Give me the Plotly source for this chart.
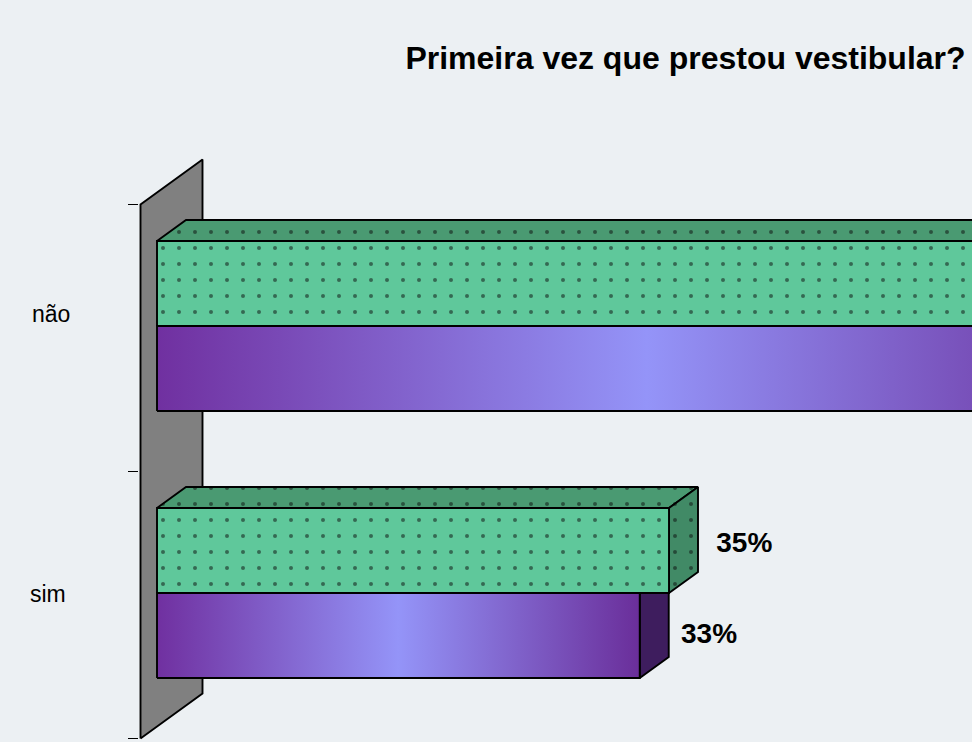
import plotly.graph_objects as go

# ---------------- data ----------------
categories = ["não", "sim"]          # top to bottom
cat_pos = [1, 0]                      # numeric position of each category
series_names = ["Série 1", "Série 2"]
green_values = [65, 35]               # upper bar of each category (%)
purple_values = [67, 33]              # lower bar of each category (%)
green_labels = ["65%", "35%"]
purple_labels = ["67%", "33%"]
title_text = "Primeira vez que prestou vestibular?"

# ---------------- style / projection ----------------
W, H = 972, 742
ML = 139
PX_PER_UNIT = 512 / 35.0              # horizontal pixels per percent
PY_PER_UNIT = 267.0                   # vertical pixels per category step
X0_PX = 157                           # pixel of value 0 (bar fronts)
Y1_PX = 326                           # pixel of category position 1

BAR_H = 85 / PY_PER_UNIT              # bar thickness (category units)
DXB = 29 / PX_PER_UNIT                # bar depth offset (x units)
DYB = 21 / PY_PER_UNIT                # bar depth offset (y units)
WALL_GAP = 0.569                      # wall extends this far beyond bar depth

xmin = -(X0_PX - ML) / PX_PER_UNIT
xmax = xmin + (W - ML) / PX_PER_UNIT
ymax = 1 + Y1_PX / PY_PER_UNIT
ymin = ymax - H / PY_PER_UNIT

BG = "#ECF0F3"
GREEN_FRONT = "#5FC89B"
GREEN_TOP = "#4A9A72"
GREEN_SIDE = "#418A66"
PURPLE_SIDE = "#3E1D5E"
PURPLE_SCALE = [[0, "#7030A0"], [0.5, "#9494F8"], [1, "#6A2E9A"]]
EDGE = dict(color="black", width=1.9)
FONT = "Liberation Sans, Arial, sans-serif"

fig = go.Figure()


def poly(xs, ys, **kw):
    fig.add_trace(go.Scatter(x=xs + [xs[0]], y=ys + [ys[0]], mode="lines",
                             fill="toself", line=EDGE, hoverinfo="skip",
                             showlegend=False, **kw))


def pt(x, y, d):
    return x + d * DXB, y + d * DYB


# wall (plane at value 0, spanning all categories)
y_lo, y_hi = min(cat_pos) - 0.5, max(cat_pos) + 0.5
corners = [pt(0, y_lo, -WALL_GAP), pt(0, y_hi, -WALL_GAP),
           pt(0, y_hi, 1 + WALL_GAP), pt(0, y_lo, 1 + WALL_GAP)]
poly([c[0] for c in corners], [c[1] for c in corners], fillcolor="#808080")

dots = dict(shape=".", fgcolor="#0a0a0a", size=16, solidity=0.05)

for cpos, gv, pv in zip(cat_pos, green_values, purple_values):
    # purple bar (lower), drawn first
    y0, y1 = cpos - BAR_H, cpos
    sx = [pv, pv + DXB, pv + DXB, pv]
    sy = [y0, y0 + DYB, y1 + DYB, y1]
    poly(sx, sy, fillcolor=PURPLE_SIDE)
    poly([0, pv, pv, 0], [y0, y0, y1, y1], fillcolor="#7030A0",
         fillgradient=dict(type="horizontal", colorscale=PURPLE_SCALE))
    # green bar (upper)
    y0, y1 = cpos, cpos + BAR_H
    poly([0, gv, gv + DXB, DXB], [y1, y1, y1 + DYB, y1 + DYB],
         fillcolor=GREEN_TOP, fillpattern=dict(bgcolor=GREEN_TOP, **dots))
    poly([gv, gv + DXB, gv + DXB, gv], [y0, y0 + DYB, y1 + DYB, y1],
         fillcolor=GREEN_SIDE, fillpattern=dict(bgcolor=GREEN_SIDE, **dots))
    poly([0, gv, gv, 0], [y0, y0, y1, y1],
         fillcolor=GREEN_FRONT, fillpattern=dict(bgcolor=GREEN_FRONT, **dots))

# value labels (only those whose bar end lies inside the visible range)
LABEL_FONT = dict(family=FONT, size=28, color="black", weight="bold")
for vals, labels, yoff, gap, name in [
        (green_values, green_labels, BAR_H / 2 + 0.02, 1.25, series_names[0]),
        (purple_values, purple_labels, -BAR_H / 2, 0.84, series_names[1])]:
    xs, ys, ts = [], [], []
    for v, lab, c in zip(vals, labels, cat_pos):
        if v + DXB + gap < xmax - 5:
            xs.append(v + DXB + gap)
            ys.append(c + yoff)
            ts.append(lab)
    fig.add_trace(go.Scatter(x=xs, y=ys, mode="text", text=ts,
                             textposition="middle right", textfont=LABEL_FONT,
                             hoverinfo="skip", showlegend=False, name=name))

# category labels
label_shift = [12, -1]
label_x = [51, 48]
for cat, cpos, ys, lx in zip(categories, cat_pos, label_shift, label_x):
    fig.add_annotation(text=cat, xref="paper", x=(lx - ML) / (W - ML),
                       xanchor="center", yref="y", y=cpos, yshift=ys,
                       yanchor="middle", showarrow=False,
                       font=dict(family=FONT, size=23, color="black"))

tick_vals = [b - WALL_GAP * DYB for b in
             [c + 0.5 for c in cat_pos] + [min(cat_pos) - 0.5]]

fig.update_layout(
    width=W, height=H,
    margin=dict(l=ML, r=0, t=0, b=0, pad=0),
    paper_bgcolor=BG, plot_bgcolor=BG,
    showlegend=False,
    title=dict(text=title_text, xref="container", x=685.5 / W, xanchor="center",
               yref="container", y=1 - 58 / H, yanchor="middle",
               font=dict(family=FONT, size=32, color="black", weight="bold")),
    xaxis=dict(range=[xmin, xmax], showgrid=False, zeroline=False,
               showticklabels=False, showline=False, ticks=""),
    yaxis=dict(range=[ymin, ymax], showgrid=False, zeroline=False,
               showticklabels=False, showline=False, ticks="outside",
               tickmode="array", tickvals=tick_vals, ticklen=10,
               tickcolor="black", tickwidth=1),
)

fig.write_html("out.html", config={"displayModeBar": False},
               post_script="document.body.style.margin='0';"
                           "document.body.style.background='" + BG + "';")
